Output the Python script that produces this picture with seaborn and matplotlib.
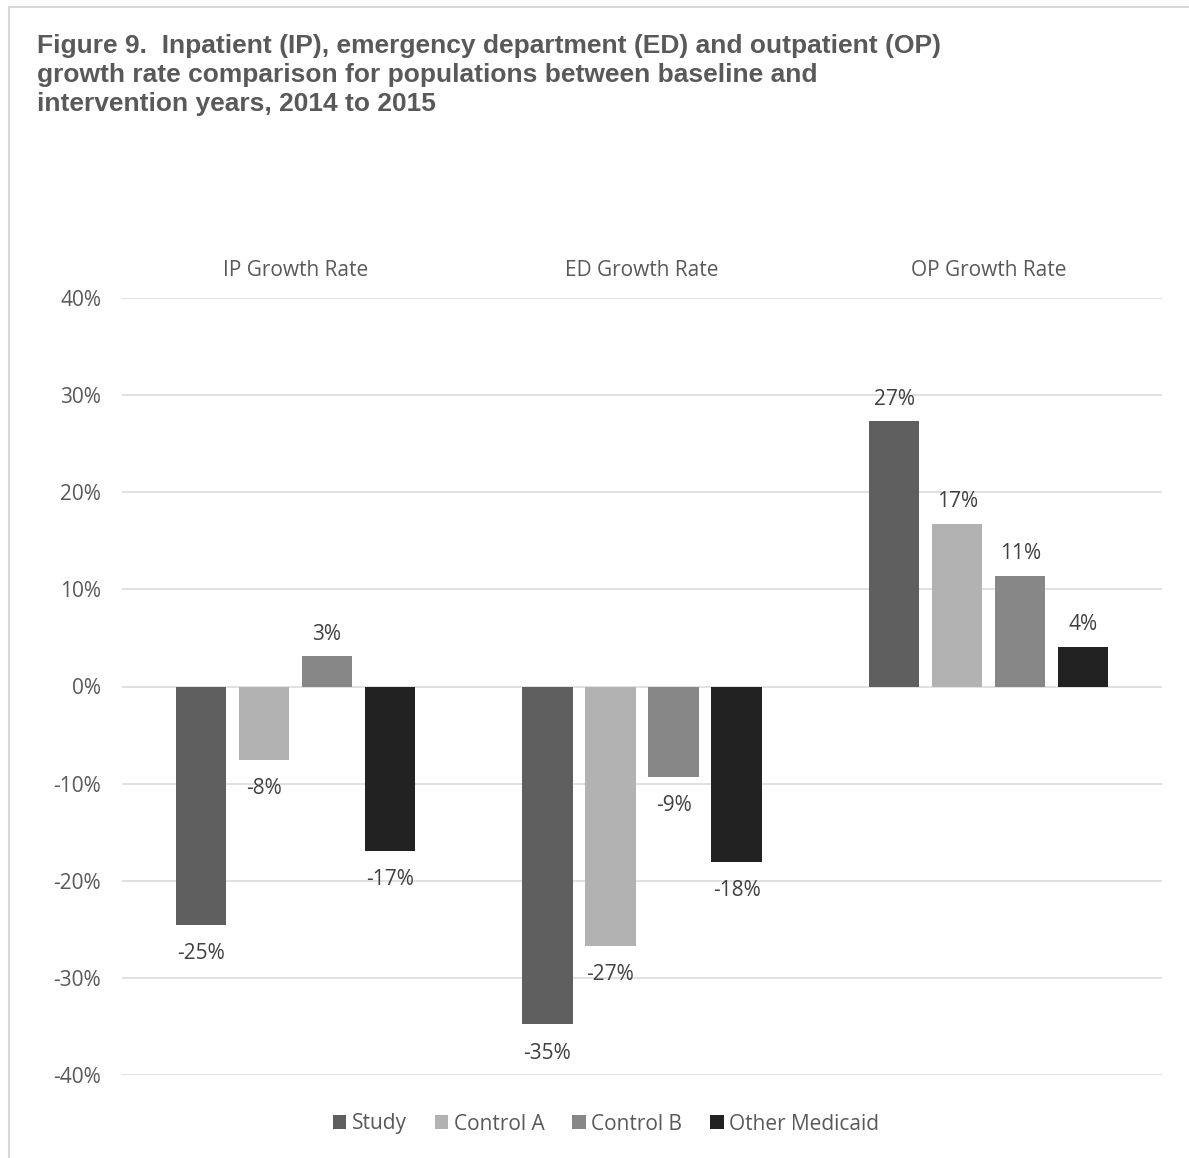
import matplotlib
matplotlib.use("Agg")
import matplotlib.pyplot as plt
import seaborn as sns
import pandas as pd
from matplotlib.lines import Line2D
from matplotlib.patches import Patch

categories = ["IP Growth Rate", "ED Growth Rate", "OP Growth Rate"]
series = ["Study", "Control A", "Control B", "Other Medicaid"]
study = [-24.6, -34.8, 27.3]
control_a = [-7.6, -26.7, 16.7]
control_b = [3.1, -9.3, 11.4]
other_medicaid = [-16.9, -18.1, 4.1]
y_ticks = [-40, -30, -20, -10, 0, 10, 20, 30, 40]
title_lines = ["Figure 9.  Inpatient (IP), emergency department (ED) and outpatient (OP)",
               "growth rate comparison for populations between baseline and",
               "intervention years, 2014 to 2015"]

colors = ["#5f5f5f", "#b2b2b2", "#878787", "#222222"]

rows = []
for s, vals in zip(series, [study, control_a, control_b, other_medicaid]):
    for c, v in zip(categories, vals):
        rows.append({"category": c, "series": s, "value": v})
df = pd.DataFrame(rows)

sns.set_style("white")
plt.rcParams["font.family"] = ["Open Sans", "DejaVu Sans"]
FS = 15

fig = plt.figure(figsize=(11.89, 11.58), dpi=100)
ax = fig.add_axes([122/1189, 1-1075/1158, (1162-122)/1189, (1075-298)/1158])

sns.barplot(data=df, x="category", y="value", hue="series", order=categories,
            hue_order=series, palette=colors, width=0.727, gap=0.2,
            linewidth=0, saturation=1, ax=ax, legend=False)

ax.set_ylim(-40, 40)
ax.set_yticks(y_ticks)
ax.set_yticklabels([f"{t}%" for t in y_ticks])
ax.yaxis.grid(True, color="#d9d9d9", linewidth=1.1)
ax.set_axisbelow(True)
for sp in ax.spines.values():
    sp.set_visible(False)
ax.tick_params(axis="y", length=0, pad=15, labelsize=FS, labelcolor="#595959")
ax.xaxis.tick_top()
ax.tick_params(axis="x", length=0, pad=12, labelsize=FS, labelcolor="#595959")
ax.set_xlabel("")
ax.set_ylabel("")

for cont in ax.containers:
    for bar in cont:
        h = bar.get_height()
        x = bar.get_x() + bar.get_width() / 2
        if h >= 0:
            ax.annotate(f"{h:.0f}%", (x, h), xytext=(0, 8.5), textcoords="offset points",
                        ha="center", va="bottom", fontsize=FS, color="#404040")
        else:
            ax.annotate(f"{h:.0f}%", (x, h), xytext=(0, -13), textcoords="offset points",
                        ha="center", va="top", fontsize=FS, color="#404040")

handles = [Patch(facecolor=c, edgecolor="none") for c in colors]
fig.legend(handles, series, loc="center", bbox_to_anchor=(606/1189, 1-1124/1158),
           ncol=4, frameon=False, fontsize=FS, labelcolor="#595959",
           handlelength=0.65, handleheight=0.65, handletextpad=0.25, columnspacing=1.35)

for i, line in enumerate(title_lines):
    fig.text(37/1189, 1-(53+29*i)/1158, line, ha="left", va="baseline", fontsize=19,
             fontweight="bold", color="#595959", family=["Liberation Sans", "DejaVu Sans"])

fig.add_artist(Line2D([9/1189, 1], [1-7/1158, 1-7/1158], color="#d9d9d9", linewidth=1.5))
fig.add_artist(Line2D([9/1189, 9/1189], [0, 1-7/1158], color="#d9d9d9", linewidth=1.5))

fig.savefig("out.png", dpi=100, facecolor="white")
